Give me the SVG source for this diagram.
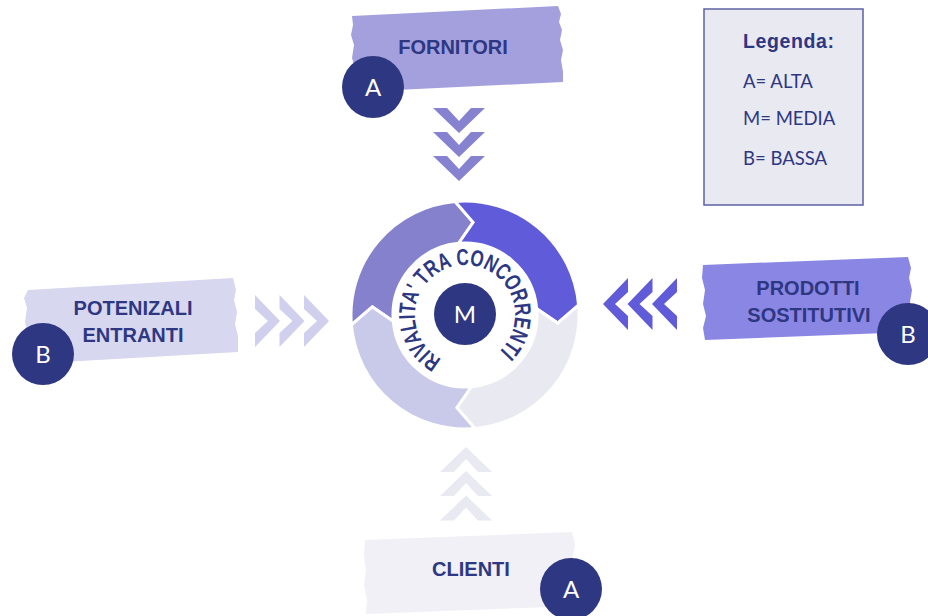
<svg xmlns="http://www.w3.org/2000/svg" xmlns:xlink="http://www.w3.org/1999/xlink" width="928" height="616" viewBox="0 0 928 616">
  <style>
    .head { font-family: "Liberation Sans", Arial, sans-serif; font-weight: bold; font-size: 20px; fill: #2e3782; text-anchor: middle; }
    .badge { fill: #2e3782; }
    .badgeText { font-family: Lato, "Liberation Sans", sans-serif; font-size: 24px; fill: #ffffff; text-anchor: middle; }
    .leg { font-family: Lato, "Liberation Sans", sans-serif; font-size: 18.5px; fill: #2e3782; }
    .seg { stroke: #ffffff; stroke-width: 3; stroke-linejoin: miter; }
  </style>
  <defs>
    <path id="chev" d="M-26,0 L-12,0 L0,13 L12,0 L26,0 L0,25 Z"/>
    <path id="ringPath" d="M441.53,359.15 A50,50 0 1 1 498.46,352.16"/>
  </defs>

  <rect width="928" height="616" fill="#ffffff"/>

  <g id="connectors">
    <g fill="#8682cf">
      <use xlink:href="#chev" href="#chev" transform="translate(459,108)"/>
      <use xlink:href="#chev" href="#chev" transform="translate(459,132)"/>
      <use xlink:href="#chev" href="#chev" transform="translate(459,156)"/>
    </g>
    <g fill="#d0d0ee">
      <use xlink:href="#chev" href="#chev" transform="translate(255,321) rotate(-90)"/>
      <use xlink:href="#chev" href="#chev" transform="translate(279.5,321) rotate(-90)"/>
      <use xlink:href="#chev" href="#chev" transform="translate(304,321) rotate(-90)"/>
    </g>
    <g fill="#5f5bd9">
      <use xlink:href="#chev" href="#chev" transform="translate(628,304) rotate(90)"/>
      <use xlink:href="#chev" href="#chev" transform="translate(652.5,304) rotate(90)"/>
      <use xlink:href="#chev" href="#chev" transform="translate(677,304) rotate(90)"/>
    </g>
    <g fill="#e9e9f2">
      <use xlink:href="#chev" href="#chev" transform="translate(466,472) rotate(180)"/>
      <use xlink:href="#chev" href="#chev" transform="translate(466,496) rotate(180)"/>
      <use xlink:href="#chev" href="#chev" transform="translate(466,520.5) rotate(180)"/>
    </g>
  </g>

  <g id="rivalita">
    <path class="seg" fill="#8581cc" d="M351.43,324.94 A114,114 0 0 1 455.06,201.43 L473.11,222.35 L458.72,243.27 A72,72 0 0 0 393.27,321.28 L372.35,306.89 Z"/>
    <path class="seg" fill="#5f5bd9" d="M455.06,201.43 A114,114 0 0 1 578.57,305.06 L557.65,323.11 L536.73,308.72 A72,72 0 0 0 458.72,243.27 L473.11,222.35 Z"/>
    <path class="seg" fill="#e9e9f1" d="M578.57,305.06 A114,114 0 0 1 474.94,428.57 L456.89,407.65 L471.28,386.73 A72,72 0 0 0 536.73,308.72 L557.65,323.11 Z"/>
    <path class="seg" fill="#c9c9ea" d="M474.94,428.57 A114,114 0 0 1 351.43,324.94 L372.35,306.89 L393.27,321.28 A72,72 0 0 0 471.28,386.73 L456.89,407.65 Z"/>
    <text font-family="'Liberation Sans', Arial, sans-serif" font-weight="bold" font-size="23" fill="#2e3782"><textPath xlink:href="#ringPath" href="#ringPath" textLength="251" lengthAdjust="spacingAndGlyphs">RIVALITA' TRA CONCORRENTI</textPath></text>
    <circle class="badge" cx="465" cy="314" r="31"/>
    <text class="badgeText" x="465" y="322.5">M</text>
  </g>

  <g id="fornitori">
    <polygon fill="#a3a0dd" points="352,16 558,6 561,14 559,22 562,30 560,40 563,50 561,60 563,72 563,82 355,92 353,80 355,68 352,58 354,45 351,35 353,25"/>
    <text class="head" x="453" y="54">FORNITORI</text>
    <circle class="badge" cx="373" cy="87" r="31"/>
    <text class="badgeText" x="373" y="95.5">A</text>
  </g>

  <g id="entranti">
    <polygon fill="#d7d7f0" points="28,290 233,278 236,290 234,300 237,312 235,324 238,336 238,352 28,364 26,350 28,336 25,322 27,308 24,298"/>
    <text class="head" x="133" y="315">POTENIZALI</text>
    <text class="head" x="133" y="341.7">ENTRANTI</text>
    <circle class="badge" cx="43" cy="354" r="31"/>
    <text class="badgeText" x="43" y="362.5">B</text>
  </g>

  <g id="sostitutivi">
    <polygon fill="#8a86e4" points="703,265 908,257 911,268 909,278 912,290 910,302 913,315 912,332 705,340 703,328 706,316 703,304 705,290 702,278"/>
    <text class="head" x="808" y="295">PRODOTTI</text>
    <text class="head" x="809" y="321.7">SOSTITUTIVI</text>
    <circle class="badge" cx="908" cy="334" r="31"/>
    <text class="badgeText" x="908" y="342.5">B</text>
  </g>

  <g id="clienti">
    <polygon fill="#f0f0f6" points="365,540 572,532 575,544 573,556 576,570 574,590 576,606 366,614 367,600 364,585 366,570 364,555"/>
    <text class="head" x="471" y="576">CLIENTI</text>
    <circle class="badge" cx="571" cy="589" r="31"/>
    <text class="badgeText" x="571" y="597.5">A</text>
  </g>

  <g id="legenda">
    <rect x="704" y="9" width="159" height="196" fill="#e9e9f2" stroke="#5d62a0" stroke-width="1.5"/>
    <text x="743" y="48" font-family="'Liberation Sans', Arial, sans-serif" font-weight="bold" font-size="19.5" letter-spacing="0.6" fill="#2e3782">Legenda:</text>
    <text class="leg" x="743" y="88">A= ALTA</text>
    <text class="leg" x="743" y="125">M= MEDIA</text>
    <text class="leg" x="743" y="165">B= BASSA</text>
  </g>
</svg>
